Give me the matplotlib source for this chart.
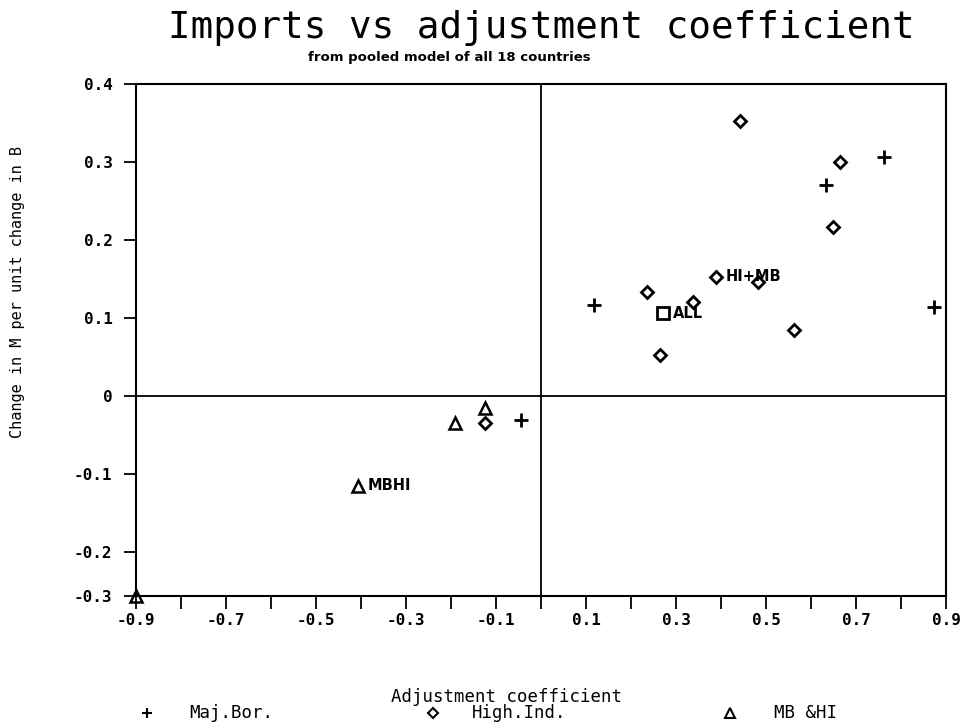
#Imports vs adjustment coefficient, pooled model scatter
import matplotlib
matplotlib.use('Agg')
import matplotlib.pyplot as plt #import matplotlib.pyplot
from matplotlib.lines import Line2D
import numpy as np #import numpy with the nickname of np

#Maj.Bor. points (plus)
majbor_x = [-0.044, 0.117, 0.634, 0.762, 0.873]
majbor_y = [-0.031, 0.117, 0.271, 0.306, 0.114]
#High.Ind. points (diamond)
highind_x = [-0.124, 0.236, 0.264, 0.338, 0.389, 0.442, 0.482, 0.563, 0.648, 0.664]
highind_y = [-0.034, 0.134, 0.053, 0.121, 0.153, 0.353, 0.146, 0.085, 0.217, 0.300]
#MB &HI points (triangle)
mbhi_x = [-0.9, -0.407, -0.192, -0.124]
mbhi_y = [-0.3, -0.115, -0.034, -0.015]
#pooled ALL estimate (square)
all_x = [0.272]
all_y = [0.106]

#labels on points
point_labels = ['HI+MB', 'ALL', 'MBHI']
label_x = [0.389, 0.272, -0.407]
label_y = [0.153, 0.106, -0.115]

xtick_vals = [-0.9, -0.7, -0.5, -0.3, -0.1, 0.1, 0.3, 0.5, 0.7, 0.9]
xtick_labels = ['-0.9', '-0.7', '-0.5', '-0.3', '-0.1', '0.1', '0.3', '0.5', '0.7', '0.9']
ytick_vals = [-0.3, -0.2, -0.1, 0, 0.1, 0.2, 0.3, 0.4]
ytick_labels = ['-0.3', '-0.2', '-0.1', '0', '0.1', '0.2', '0.3', '0.4']

legend_names = ['Maj.Bor.', 'High.Ind.', 'MB &HI']

mono = 'DejaVu Sans Mono'

#the printed y axis is squeezed below -0.2
def fwd(y):
    y = np.asarray(y, dtype=float)
    return np.where(y < -0.2, -0.2 + (y + 0.2) * 0.564, y)

def inv(z):
    z = np.asarray(z, dtype=float)
    return np.where(z < -0.2, -0.2 + (z + 0.2) / 0.564, z)

fig = plt.figure(figsize=(9.62, 7.25), dpi=100)
ax = fig.add_axes([0.1414, 0.1779, 0.842, 0.7062])
ax.set_yscale('function', functions=(fwd, inv))

ax.plot(majbor_x, majbor_y, ls='none', marker='+', ms=10, mew=2, color='black', clip_on=False)
ax.plot(highind_x, highind_y, ls='none', marker='D', ms=6.5, mew=2, mfc='none', mec='black', clip_on=False)
ax.plot(mbhi_x, mbhi_y, ls='none', marker='^', ms=8, mew=1.8, mfc='none', mec='black', clip_on=False)
ax.plot(all_x, all_y, ls='none', marker='s', ms=8, mew=2, mfc='none', mec='black', clip_on=False)

for name, lx, ly in zip(point_labels, label_x, label_y):
    ax.annotate(name, (lx, ly), xytext=(7, 0), textcoords='offset points',
                ha='left', va='center', fontsize=10.5, fontweight='bold')

ax.axhline(0, color='black', lw=1.3)
ax.axvline(0, color='black', lw=1.3)

ax.set_xlim(-0.9, 0.9)
ax.set_ylim(-0.3, 0.4)
ax.set_xticks(xtick_vals)
ax.set_xticklabels(xtick_labels, family=mono, fontweight='bold', fontsize=11.5)
ax.set_xticks(np.arange(-0.8, 0.81, 0.2), minor=True)
ax.set_yticks(ytick_vals)
ax.set_yticklabels(ytick_labels, family=mono, fontweight='bold', fontsize=11.5)
ax.yaxis.set_minor_locator(matplotlib.ticker.NullLocator())
ax.tick_params(which='both', direction='out', length=9, width=1.3, color='black')
ax.tick_params(axis='x', which='both', pad=3)
ax.tick_params(axis='y', pad=8)
for s in ax.spines.values():
    s.set_linewidth(1.5)

fig.text(0.5625, 0.962, 'Imports vs adjustment coefficient', family=mono, fontsize=27,
         ha='center', va='center')
fig.text(0.467, 0.921, 'from pooled model of all 18 countries', fontsize=9.5,
         fontweight='bold', ha='center', va='center')
fig.text(0.526, 0.039, 'Adjustment coefficient', family=mono, fontsize=12.5,
         ha='center', va='center')
fig.text(0.018, 0.597, 'Change in M per unit change in B', family=mono, fontsize=11,
         rotation=90, ha='center', va='center')

#legend along the bottom
leg_marks = ['+', 'D', '^']
leg_size = [7, 5, 7]
leg_mx = [0.153, 0.450, 0.759]
leg_tx = [0.197, 0.490, 0.805]
for mk, sz, mx, tx, name in zip(leg_marks, leg_size, leg_mx, leg_tx, legend_names):
    if mk == '+':
        fig.add_artist(Line2D([mx], [0.016], marker=mk, ms=sz, mew=1.5, color='black',
                              transform=fig.transFigure))
    else:
        fig.add_artist(Line2D([mx], [0.016], marker=mk, ms=sz, mew=1.5, mfc='none',
                              mec='black', transform=fig.transFigure))
    fig.text(tx, 0.016, name, family=mono, fontsize=12.5, ha='left', va='center')

fig.savefig('out.png', dpi=100)
